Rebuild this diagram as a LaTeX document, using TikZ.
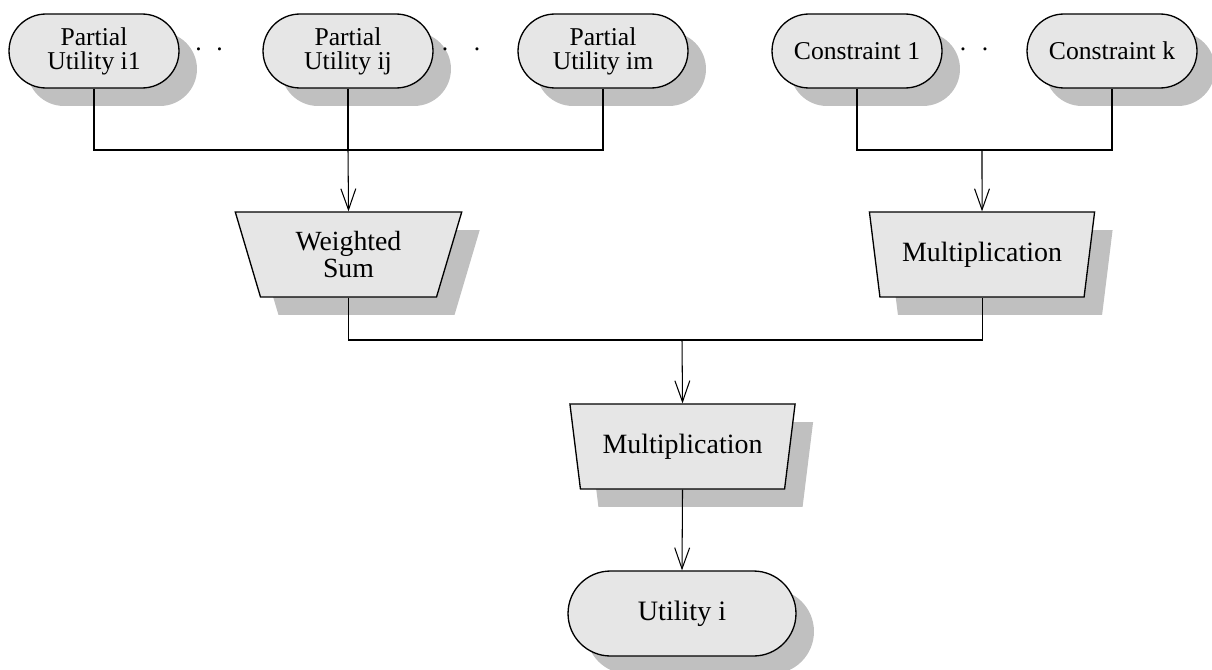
\documentclass[tikz,border=0pt]{standalone}
\usepackage{fontspec}
\setmainfont{Liberation Serif}
\usetikzlibrary{shapes.geometric, shapes.misc, arrows.meta, shadows}
\definecolor{boxgray}{RGB}{230,230,230}
\definecolor{shadowgray}{RGB}{192,192,192}

\begin{document}
\begin{tikzpicture}[
        x=0.02cm, y=-0.02cm,
        castshadow/.style={drop shadow={shadow xshift=0.36cm, shadow yshift=-0.36cm, fill=shadowgray, opacity=1}},
        pill/.style={rounded rectangle, draw=black, line width=0.75pt, fill=boxgray, castshadow, minimum width=3.4cm, minimum height=1.48cm, inner sep=0pt, align=center, font=\fontsize{14.6}{13.7}\selectfont},
        funnel/.style={trapezium, trapezium angle=72, shape border rotate=180, trapezium stretches=true, draw=black, line width=0.75pt, fill=boxgray, castshadow, minimum width=4.54cm, minimum height=1.7cm, inner sep=0pt, align=center, font=\fontsize{15.9}{15.4}\selectfont},
        wire/.style={black, line width=0.6pt},
        arrow/.style={wire, -{Straight Barb[length=12pt, width=8.5pt]}},
        ellipsisdots/.style={inner sep=0pt, font=\fontsize{14.6}{14.6}\selectfont}
    ]
        \useasboundingbox (0,0) rectangle (1212,669);

        \node[pill] (pua) at (94,51) {Partial\\Utility i1};
        \node[pill] (pub) at (348,51) {Partial\\Utility ij};
        \node[pill] (puc) at (603,51) {Partial\\Utility im};
        \node[pill] (cona) at (857,51) {Constraint 1};
        \node[pill] (conk) at (1112,51) {Constraint k};

        \node[ellipsisdots] (gapa) at (209,49) {.\hspace{8.3pt}.};
        \node[ellipsisdots] (gapb) at (461,49) {.\hspace{14.6pt}.};
        \node[ellipsisdots] (gapc) at (974,49) {.\hspace{8.9pt}.};

        \node[funnel, font=\fontsize{15.8}{15.4}\selectfont] (wsum) at (348.5,254.5) {Weighted\\Sum};
        \node[funnel] (multa) at (982,254.5) {Multiplication};
        \node[funnel] (multb) at (682.5,446.5) {Multiplication};
        \node[pill, minimum width=4.56cm, minimum height=1.7cm, font=\fontsize{16}{16}\selectfont] (util) at (682,613.5) {Utility i};

        \coordinate (busa) at (348,150);
        \coordinate (busb) at (982,150);
        \coordinate (busc) at (682,340);

        \draw[wire] (pua.south) |- (busa) -| (puc.south);
        \draw[wire] (pub.south) -- (busa);
        \draw[arrow] (busa) -- (wsum.north);
        \draw[wire] (cona.south) |- (busb) -| (conk.south);
        \draw[arrow] (busb) -- (multa.north);
        \draw[wire] (wsum.south) |- (busc) -| (multa.south);
        \draw[arrow] (busc) -- (multb.north);
        \draw[arrow] (multb.south) -- (util.north);
    \end{tikzpicture}
\end{document}
